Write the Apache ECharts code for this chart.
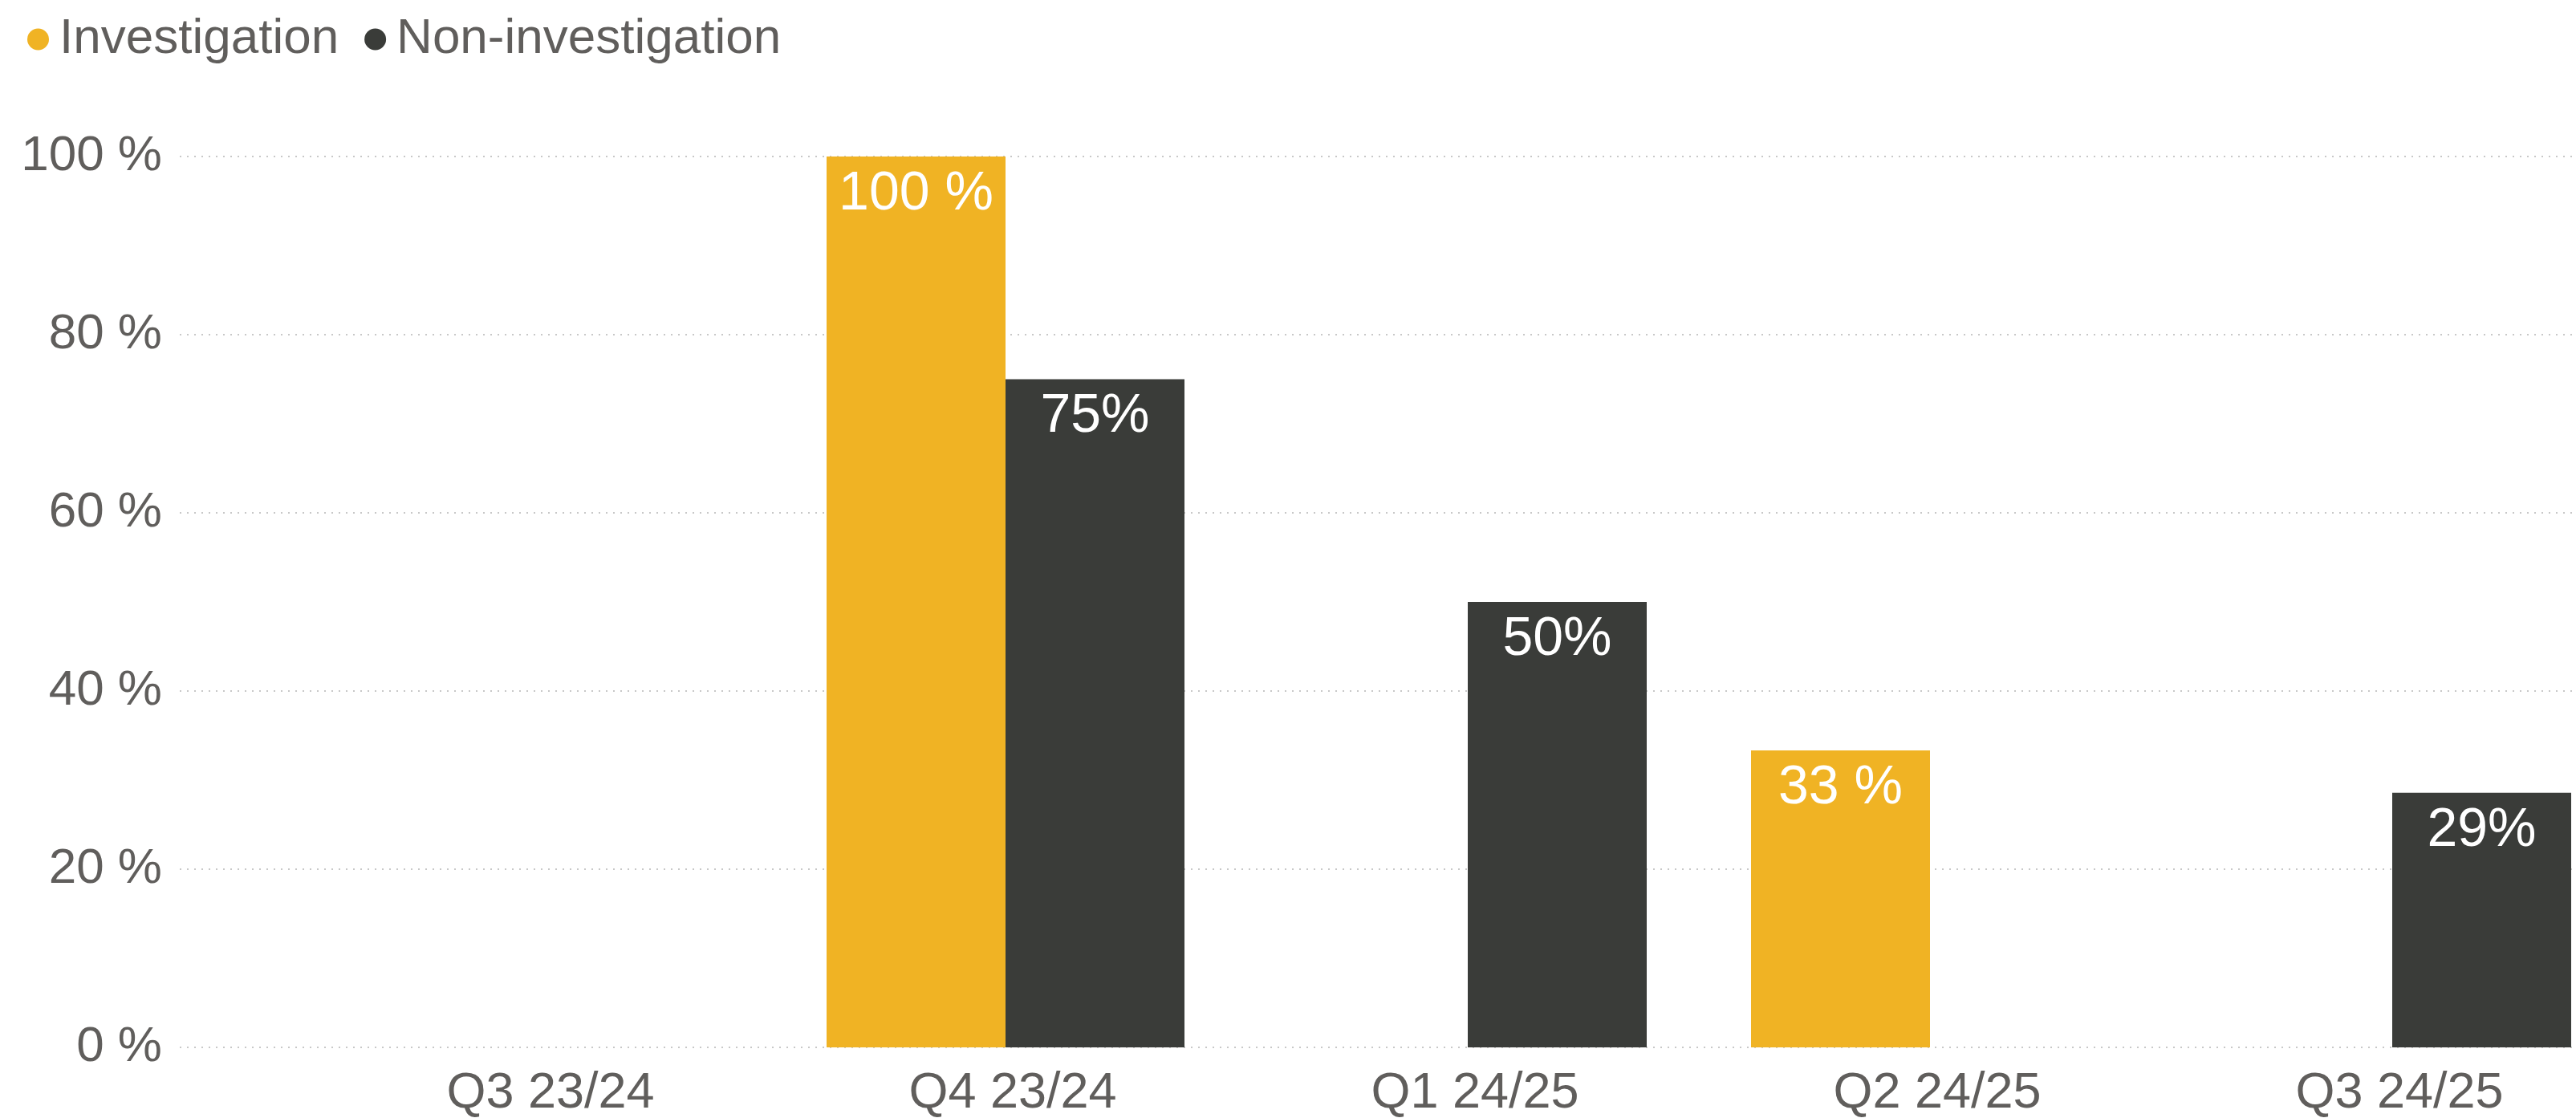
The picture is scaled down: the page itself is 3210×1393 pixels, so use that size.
<!DOCTYPE html>
<html>
<head>
<meta charset="utf-8">
<script src="https://cdn.jsdelivr.net/npm/echarts@6/dist/echarts.min.js"></script>
<style>
html,body{margin:0;padding:0;background:#fff;}
#chart{width:3210px;height:1393px;}
</style>
</head>
<body>
<div id="chart"></div>
<script>
const categories = ['Q3 23/24', 'Q4 23/24', 'Q1 24/25', 'Q2 24/25', 'Q3 24/25'];
const investigation = [null, 100, null, 33.33, null];
const nonInvestigation = [null, 75, 50, null, 28.57];
const yTicks = [0, 20, 40, 60, 80, 100];

const FONT = "'Liberation Sans', Arial, sans-serif";
const TEXT = '#605E5C';
const YELLOW = '#F0B324';
const DARK = '#3A3C39';

const chart = echarts.init(document.getElementById('chart'));
const option = {
  backgroundColor: '#ffffff',
  animation: false,
  legend: {
    left: 29, top: 13,
    icon: 'circle',
    itemWidth: 27, itemHeight: 27, itemGap: 32,
    textStyle: { color: TEXT, fontSize: 62, fontFamily: FONT, padding: [0, 0, 0, 8] },
    data: ['Investigation', 'Non-investigation']
  },
  grid: [
    { left: 224, right: 5, top: 195, bottom: 88, containLabel: false, outerBoundsMode: 'none' },
    { left: 389, width: 2880, top: 195, bottom: 88, containLabel: false, outerBoundsMode: 'none' }
  ],
  xAxis: [
    { gridIndex: 0, type: 'category', data: categories, show: false },
    {
      gridIndex: 1, type: 'category', data: categories,
      axisLine: { show: false }, axisTick: { show: false },
      axisLabel: { color: TEXT, fontSize: 63, fontFamily: FONT, margin: 26, padding: [0, 0, 0, 18] }
    }
  ],
  yAxis: [
    {
      gridIndex: 0, type: 'value', min: yTicks[0], max: yTicks[yTicks.length - 1], interval: 20,
      axisLine: { show: false }, axisTick: { show: false },
      axisLabel: { color: TEXT, fontSize: 62, fontFamily: FONT, margin: 22, formatter: v => v + ' %' },
      splitLine: { show: true, lineStyle: { color: '#C8C8C8', width: 2, type: [2, 7] } }
    },
    {
      gridIndex: 1, type: 'value', min: 0, max: 100, interval: 20,
      show: false, splitLine: { show: false }
    }
  ],
  series: [
    {
      name: 'Investigation', type: 'bar', xAxisIndex: 1, yAxisIndex: 1,
      data: investigation, barWidth: 223, barGap: '0%',
      itemStyle: { color: YELLOW },
      label: {
        show: true, position: 'insideTop', distance: 13,
        color: '#ffffff', fontSize: 68, fontFamily: FONT,
        formatter: p => Math.round(p.value) + ' %'
      }
    },
    {
      name: 'Non-investigation', type: 'bar', xAxisIndex: 1, yAxisIndex: 1,
      data: nonInvestigation, barWidth: 223, barGap: '0%',
      itemStyle: { color: DARK },
      label: {
        show: true, position: 'insideTop', distance: 13,
        color: '#ffffff', fontSize: 68, fontFamily: FONT,
        formatter: p => Math.round(p.value) + '%'
      }
    }
  ]
};
chart.setOption(option);
</script>
</body>
</html>
